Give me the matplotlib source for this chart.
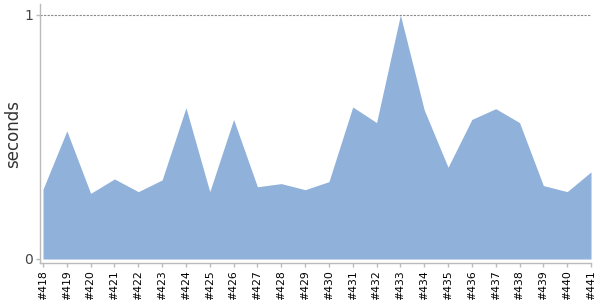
import numpy as np
import matplotlib
matplotlib.use('Agg')
import matplotlib.pyplot as plt

builds = ['#418', '#419', '#420', '#421', '#422', '#423', '#424', '#425',
          '#426', '#427', '#428', '#429', '#430', '#431', '#432', '#433',
          '#434', '#435', '#436', '#437', '#438', '#439', '#440', '#441']
seconds = [0.286, 0.525, 0.269, 0.328, 0.276, 0.324, 0.620, 0.276,
           0.572, 0.296, 0.309, 0.284, 0.317, 0.623, 0.559, 1.0,
           0.611, 0.376, 0.572, 0.616, 0.559, 0.301, 0.276, 0.357]
y_ticks = [0, 1]

fig = plt.figure(figsize=(6, 3), dpi=100)
ax = fig.add_axes([40 / 600, 37 / 300, 551 / 600, 259 / 300])

x = np.arange(len(builds))
ax.fill_between(x, 0, seconds, color='#8fb1da', linewidth=0)

# dotted reference line at the max tick
ax.axhline(1, color='#888888', linewidth=0.8, linestyle=(0, (2, 1.2)))

ax.set_xlim(-0.126, len(builds) - 1)
ax.set_ylim(-0.0164, 1.045)

ax.set_xticks(x)
ax.set_xticklabels(builds, rotation=90, fontsize=7.8, color='black')
ax.set_yticks(y_ticks)
ax.set_yticklabels([str(v) for v in y_ticks], fontsize=10, color='#444444')

for side in ['top', 'right']:
    ax.spines[side].set_visible(False)
for side in ['left', 'bottom']:
    ax.spines[side].set_color('#bbbbbb')
    ax.spines[side].set_linewidth(1)
ax.tick_params(axis='both', colors='#bbbbbb', length=3, width=1, pad=2)
ax.tick_params(axis='x', labelcolor='black')
ax.tick_params(axis='y', labelcolor='#444444')

ax.set_ylabel('seconds', fontsize=12, color='#333333', labelpad=1.5)

fig.savefig('out.png', dpi=100)
